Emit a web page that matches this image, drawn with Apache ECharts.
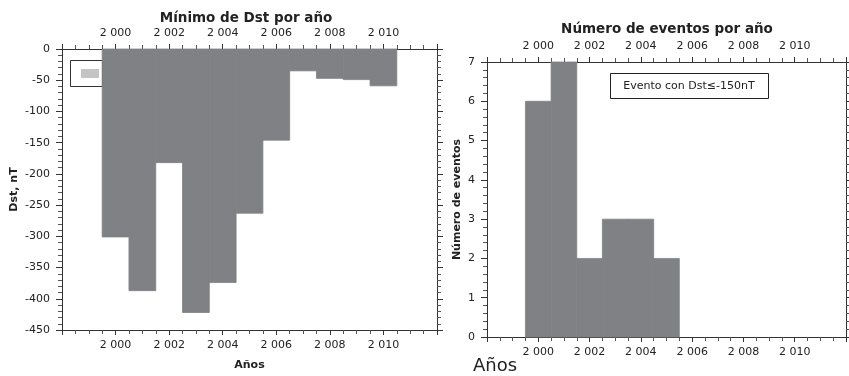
<!DOCTYPE html>
<html>
<head>
<meta charset="utf-8">
<script src="https://cdn.jsdelivr.net/npm/echarts@6/dist/echarts.min.js"></script>
<style>
  html, body { margin: 0; padding: 0; background: #fff; }
  #chart { width: 849px; height: 376px; }
</style>
</head>
<body>
<div id="chart"></div>
<script>
// Yearly minimum of the Dst index (nT)
const dstYears = [2000, 2001, 2002, 2003, 2004, 2005, 2006, 2007, 2008, 2009, 2010];
const dstMin = [-301, -387, -182, -422, -374, -263, -146, -35, -47, -49, -59];

// Number of storms per year with Dst <= -150 nT
const eventYears = [2000, 2001, 2002, 2003, 2004, 2005];
const eventCounts = [6, 7, 2, 3, 3, 2];

// Axis ticks
const yearMin = 1998, yearMax = 2012, yearStep = 2;
const yearLabels = [2000, 2002, 2004, 2006, 2008, 2010];
const dstTicks = [0, -50, -100, -150, -200, -250, -300, -350, -400, -450];
const countTicks = [0, 1, 2, 3, 4, 5, 6, 7];

const FONT = 'DejaVu Sans';
const INK = '#222';
const BAR = '#7f8184';

function yearFmt(v) {
  if (!yearLabels.includes(v)) return '';
  const s = String(v);
  return s.slice(0, s.length - 3) + ' ' + s.slice(-3);
}

function xAxisDef(grid, pos, showLabels) {
  return {
    type: 'value', gridIndex: grid, position: pos,
    min: yearMin, max: yearMax, interval: yearStep,
    axisLine: { show: true, onZero: false, lineStyle: { color: '#333', width: 1 } },
    axisTick: { show: true, length: 5, lineStyle: { color: '#333' } },
    minorTick: { show: true, splitNumber: 4, length: 4, lineStyle: { color: '#555' } },
    axisLabel: { show: showLabels, formatter: yearFmt, fontFamily: FONT, fontSize: 11, color: INK, margin: 10 },
    splitLine: { show: false }
  };
}

function yAxisDef(grid, pos, min, max, step, minorSplit, showLabels) {
  return {
    type: 'value', gridIndex: grid, position: pos,
    min: min, max: max, interval: step,
    axisLine: { show: true, onZero: false, lineStyle: { color: '#333', width: 1 } },
    axisTick: { show: true, length: 6, lineStyle: { color: '#333' } },
    minorTick: { show: true, splitNumber: minorSplit, length: 4, lineStyle: { color: '#555' } },
    axisLabel: { show: showLabels, fontFamily: FONT, fontSize: 11, color: INK, margin: 12 },
    splitLine: { show: false }
  };
}

// Step bars spanning one year centred on each year
function stepBar(params, api) {
  const yr = api.value(0), v = api.value(1);
  const a = api.coord([yr - 0.5, v]);
  const b = api.coord([yr + 0.5, 0]);
  return {
    type: 'rect',
    shape: { x: a[0], y: Math.min(a[1], b[1]), width: b[0] - a[0], height: Math.abs(b[1] - a[1]) },
    style: { fill: BAR, stroke: BAR, lineWidth: 0.8 }
  };
}

const chart = echarts.init(document.getElementById('chart'), null, { renderer: 'canvas' });

const leftY = yAxisDef(0, 'left', -450, 0, 50, 5, true);
leftY.name = 'Dst, nT';
leftY.nameLocation = 'middle';
leftY.nameGap = 42;
leftY.nameTextStyle = { fontFamily: FONT, fontSize: 11, fontWeight: 'bold', color: INK };

const rightY = yAxisDef(1, 'left', 0, 7, 1, 5, true);
rightY.name = 'Número de eventos';
rightY.nameLocation = 'middle';
rightY.nameGap = 24;
rightY.nameTextStyle = { fontFamily: FONT, fontSize: 11, fontWeight: 'bold', color: INK };

const leftX = xAxisDef(0, 'bottom', true);
leftX.name = 'Años';
leftX.nameLocation = 'middle';
leftX.nameGap = 30;
leftX.nameTextStyle = { fontFamily: FONT, fontSize: 11, fontWeight: 'bold', color: INK };

chart.setOption({
  animation: false,
  backgroundColor: '#fff',
  title: [
    { text: 'Mínimo de Dst por año', left: 241, top: 6, textAlign: 'center',
      textStyle: { fontFamily: FONT, fontSize: 13.5, fontWeight: 'bold', color: INK } },
    { text: 'Número de eventos por año', left: 662, top: 17, textAlign: 'center',
      textStyle: { fontFamily: FONT, fontSize: 13.5, fontWeight: 'bold', color: INK } }
  ],
  grid: [
    { left: 62, right: 412, top: 49, bottom: 43 },
    { left: 487, right: -5, top: 62, bottom: 39 }
  ],
  xAxis: [
    leftX,
    xAxisDef(0, 'top', true),
    xAxisDef(1, 'bottom', true),
    xAxisDef(1, 'top', true)
  ],
  yAxis: [
    leftY,
    yAxisDef(0, 'right', -450, 0, 50, 5, false),
    rightY,
    yAxisDef(1, 'right', 0, 7, 1, 5, false)
  ],
  series: [
    {
      type: 'custom', name: 'Dst mínimo', xAxisIndex: 0, yAxisIndex: 0,
      renderItem: stepBar, z: 3,
      data: dstYears.map((y, i) => [y, dstMin[i]])
    },
    {
      type: 'custom', name: 'Eventos', xAxisIndex: 2, yAxisIndex: 2,
      renderItem: stepBar, z: 3,
      data: eventYears.map((y, i) => [y, eventCounts[i]])
    }
  ],
  graphic: [
    // legend box of the Dst panel
    { type: 'rect', z: 1, shape: { x: 70.5, y: 60.5, width: 32, height: 26 },
      style: { fill: '#fff', stroke: '#333', lineWidth: 1 } },
    { type: 'rect', z: 2, shape: { x: 81, y: 69, width: 18, height: 9 },
      style: { fill: '#c4c4c4' } },
    // legend box of the events panel
    { type: 'rect', z: 5, shape: { x: 610.5, y: 73.5, width: 158, height: 25 },
      style: { fill: '#fff', stroke: '#222', lineWidth: 1 } },
    { type: 'text', z: 6, x: 689, y: 86,
      style: { text: 'Evento con Dst≤-150nT', font: '11px "DejaVu Sans"', fill: INK,
               align: 'center', verticalAlign: 'middle' } },
    { type: 'text', z: 6, x: 473, y: 366,
      style: { text: 'Años', font: '18px "DejaVu Sans"', fill: INK,
               align: 'left', verticalAlign: 'middle' } }
  ]
});
</script>
</body>
</html>
